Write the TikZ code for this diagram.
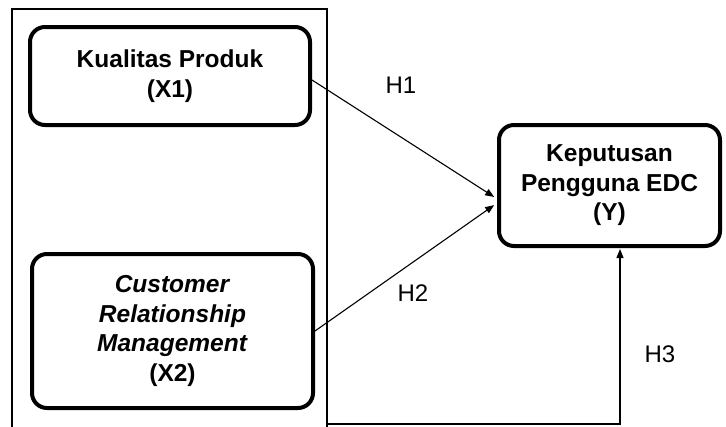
\documentclass[tikz,border=0pt]{standalone}
\usepackage{fontspec}
\setmainfont{Liberation Sans}
\usetikzlibrary{positioning, arrows.meta}

\begin{document}
\begin{tikzpicture}[x=1pt, y=-1pt,
  varbox/.style={draw, line width=4pt, rounded corners=15pt, align=center,
    inner sep=0pt, font=\fontsize{24.5}{29.5}\selectfont\bfseries},
  link/.style={line width=1.1pt, shorten >=1pt, -{Triangle[length=9pt, width=7pt]}},
  hlabel/.style={font=\fontsize{24}{28}\selectfont}]
  \useasboundingbox (0,0) rectangle (726,426);
  \clip (0,0) rectangle (726,426);

  % Frame round both independent variables
  \node[draw, line width=1.2pt, minimum width=315pt, minimum height=440pt, inner sep=0pt] (frame) at (169.5,229) {};

  % Variables
  \node[varbox, minimum width=280pt, minimum height=98pt] (x1) at (170,76) {Kualitas Produk\\(X1)};
  \node[varbox, minimum width=281pt, minimum height=154pt] (x2) at (172.5,331)
    {\textit{Customer}\\\textit{Relationship}\\\textit{Management}\\(X2)};
  \node[varbox, minimum width=221pt, minimum height=121pt] (y) at (609.5,185.5) {Keputusan\\Pengguna EDC\\(Y)};

  % Hypothesis paths
  \draw[link] ([yshift=-4pt]x1.east) -- ([xshift=-2pt,yshift=-12pt]y.west);
  \draw[link] (x2.east) -- ([xshift=-2pt,yshift=-19pt]y.west);
  \coordinate (h3start) at (frame.east |- 0,424);
  \coordinate (h3turn) at (620,424);
  \draw[link] (h3start) -- (h3turn) -- (h3turn |- y.south);

  % Labels
  \node[hlabel] (h1) at (401,85) {H1};
  \node[hlabel] (h2) at (413,293) {H2};
  \node[hlabel] (h3) at (660,354) {H3};
\end{tikzpicture}
\end{document}
